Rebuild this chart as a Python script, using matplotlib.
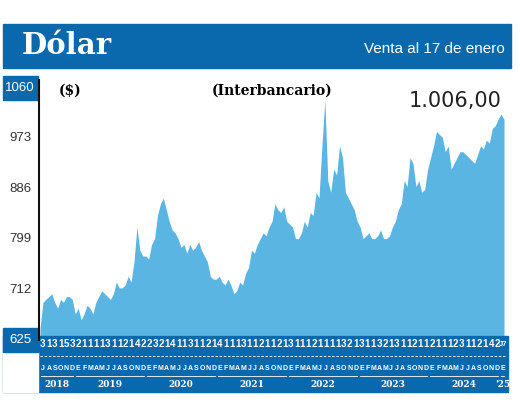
import matplotlib
matplotlib.use("Agg")
import matplotlib.pyplot as plt
import numpy as np
from matplotlib.patches import Rectangle

# semi-monthly readings, Jul 2018 .. mid Jan 2025
values = [645, 690, 695, 700, 705, 690, 680, 695, 690, 700, 700, 695,
          670, 680, 660, 670, 685, 680, 670, 690, 700, 710, 705, 700,
          695, 705, 725, 715, 715, 720, 735, 725, 760, 820, 780, 770,
          770, 765, 790, 800, 840, 860, 870, 850, 830, 815, 810, 800,
          785, 790, 775, 790, 780, 785, 795, 780, 770, 760, 735, 730,
          730, 735, 725, 720, 730, 720, 705, 710, 725, 720, 740, 750,
          780, 775, 790, 800, 810, 805, 820, 830, 860, 850, 845, 855,
          830, 825, 820, 800, 800, 810, 830, 820, 845, 840, 880, 870,
          960, 1040, 900, 880, 920, 910, 960, 940, 880, 870, 860, 850,
          830, 820, 800, 805, 810, 800, 800, 805, 815, 800, 800, 805,
          820, 830, 850, 860, 900, 890, 940, 930, 890, 900, 880, 885,
          920, 940, 960, 985, 980, 975, 950, 960, 920, 930, 940, 950,
          950, 945, 940, 935, 930, 945, 960, 955, 970, 965, 990, 995,
          1006, 1015, 1006]
digits = list("3131532111131121422321411311214111311211213111211113213113213112112111231121427")[:78] + ["J7"]
months = list("JASOND") + list("EFMAMJJASOND") * 6 + ["E"]
years = ["2018", "2019", "2020", "2021", "2022", "2023", "2024", "'25"]
yticks = [625, 712, 799, 886, 973, 1060]

blue = "#0a68ad"
fill = "#5bb5e2"
fig = plt.figure(figsize=(5.2, 4.11), dpi=100)
W, H = 520, 411
def fx(x): return x / W
def fy(y): return 1 - y / H

# header
fig.patches.append(Rectangle((fx(3), fy(68)), fx(508), 44 / H, transform=fig.transFigure, color=blue))
fig.text(fx(22), fy(46), "Dólar", color="white", fontsize=21, fontweight="bold", family="DejaVu Serif", va="center")
fig.text(fx(505), fy(49), "Venta al 17 de enero", color="white", fontsize=11, family="DejaVu Sans Condensed" if False else "Liberation Sans", ha="right", va="center")

ax = fig.add_axes([fx(40), fy(340), fx(464), 252 / H])
x = np.arange(len(values))
ax.fill_between(x, 600, values, color=fill, lw=0)
ax.set_xlim(0, len(values) - 1)
ax.set_ylim(625, 1060)
ax.set_xticks([]); ax.set_yticks([])
for s in ax.spines.values(): s.set_visible(False)
fig.add_artist(plt.Line2D([fx(39), fx(39)], [fy(80), fy(340)], color="#111", lw=1.5))

ax.text(0.04, 0.99, "($)", transform=ax.transAxes, fontsize=10, fontweight="bold", family="DejaVu Serif", va="center")
ax.text(0.50, 0.99, "(Interbancario)", transform=ax.transAxes, fontsize=10, fontweight="bold", family="DejaVu Serif", ha="center", va="center")
ax.text(0.995, 0.95, "1.006,00", transform=ax.transAxes, fontsize=15, ha="right", va="center", color="#222")

# y tick labels
for v in yticks:
    ypix = 340 - (v - 625) / (1060 - 625) * 252
    col = "#333"
    if v in (625, 1060):
        fig.patches.append(Rectangle((fx(3), fy(ypix + 12)), fx(35), 24 / H, transform=fig.transFigure, color=blue))
        col = "white"
    fig.text(fx(20), fy(ypix), str(v), color=col, fontsize=9.5, ha="center", va="center", family="Liberation Sans")

# bottom band
fig.patches.append(Rectangle((fx(3), fy(392)), fx(505), 56 / H, transform=fig.transFigure, color=blue, zorder=0))
fig.patches.append(Rectangle((fx(3), fy(392)), fx(35), 40 / H, transform=fig.transFigure, color="white", zorder=0.5))
n = len(months)
x0, x1 = 40, 506
step = (x1 - x0) / n
for i in range(n):
    cx = x0 + (i + 0.5) * step
    fs = 5.5 if len(digits[i]) > 1 else 7
    fig.text(fx(cx), fy(344), digits[i], color="white", fontsize=fs, ha="center", va="center", family="Liberation Sans", fontweight="bold")
    fig.text(fx(cx), fy(368), months[i], color="white", fontsize=5, ha="center", va="center", family="Liberation Sans", fontweight="bold")
fig.add_artist(plt.Line2D([fx(x0), fx(x1)], [fy(356), fy(356)], color="white", lw=0.6, ls=(0, (3, 2))))
starts = [0, 6, 18, 30, 42, 54, 66, 78]
ends = [6, 18, 30, 42, 54, 66, 78, 79]
for y, s, e in zip(years, starts, ends):
    a = x0 + s * step + 1; b = x0 + e * step - 2
    fig.add_artist(plt.Line2D([fx(a), fx(b)], [fy(376), fy(376)], color="white", lw=0.6))
    fig.text(fx((a + b) / 2), fy(384), y, color="white", fontsize=6.5, ha="center", va="center", fontweight="bold", family="DejaVu Serif")

fig.savefig("out.png", dpi=100)
